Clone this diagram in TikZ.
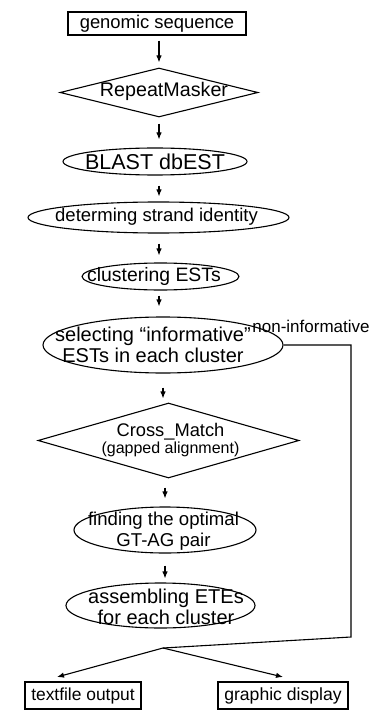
\documentclass[tikz,border=0pt]{standalone}
\usepackage{fontspec}
\setmainfont{Liberation Sans}
\usetikzlibrary{arrows.meta,shapes.geometric}
\tikzset{
  fs/.style={font=\fontsize{#1}{21}\selectfont},
  txt/.style={inner sep=0pt, align=center},
  boxnode/.style={draw, line width=1.2pt, inner sep=0pt, minimum height=23pt},
  ell/.style={draw, ellipse, line width=1.1pt, inner sep=0pt},
  dia/.style={draw, diamond, line width=1.1pt, inner sep=0pt},
  conn/.style={line width=1.1pt},
  arr/.style={conn, -{Latex[length=7pt,width=5.5pt]}},
}
\begin{document}
\begin{tikzpicture}[x=1pt,y=-1pt]
\useasboundingbox (0,0) rectangle (372,711);
% shapes
\node[boxnode, minimum width=178pt, fs=18.4] (gs) at (157,23.5) {genomic sequence};
\node[dia, minimum width=198pt, minimum height=49pt] (rm) at (159,92.5) {};
\node[txt, fs=19.7] (rmt) at (164,91) {RepeatMasker};
\node[ell, minimum width=184pt, minimum height=27pt] (bl) at (155,161.5) {};
\node[txt, fs=21.5] (blt) at (155,162) {BLAST dbEST};
\node[ell, minimum width=261pt, minimum height=31pt] (st) at (158.5,217.5) {};
\node[txt, fs=18.5] (stt) at (156.5,217) {determing strand identity};
\node[ell, minimum width=157pt, minimum height=27pt] (cl) at (160.5,276.5) {};
\node[txt, fs=19.4] (clt) at (154,276) {clustering ESTs};
\node[ell, minimum width=240pt, minimum height=56pt] (se) at (163,345) {};
\node[txt, fs=20] (set) at (153,345) {selecting “informative”\\ESTs in each cluster};
\node[dia, minimum width=261pt, minimum height=75pt] (cm) at (168.5,440.5) {};
\node[txt] (cmt) at (170.5,440) {\fontsize{18.3}{21}\selectfont Cross\_Match\\[1pt]\fontsize{16}{18}\selectfont (gapped alignment)};
\node[ell, minimum width=182pt, minimum height=46pt] (fi) at (165,530) {};
\node[txt, fs=18.6] (fit) at (163.5,531) {finding the optimal\\GT-AG pair};
\node[ell, minimum width=189pt, minimum height=45pt] (as) at (160.5,605.5) {};
\node[txt, fs=20] (ast) at (166,607) {assembling ETEs\\for each cluster};
\node[boxnode, minimum width=116pt, minimum height=27pt, fs=17.4] (tf) at (83,695.5) {textfile output};
\node[boxnode, minimum width=130pt, minimum height=27pt, fs=17.6] (gd) at (283,695.5) {graphic display};
\node[txt, fs=17, anchor=south] (ni) at (311,333) {non-informative};
% connectors
\draw[arr, shorten <=5pt, shorten >=5pt] (gs.south -| rm.north) -- (rm.north);
\draw[arr, shorten <=6pt, shorten >=8pt] (rm.south) -- (rm.south |- bl.north);
\draw[arr, shorten <=10pt, shorten >=5pt] (rm.south |- bl.south) -- (rm.south |- st.north);
\draw[arr, shorten <=10pt, shorten >=7pt] (rm.south |- st.south) -- (rm.south |- cl.north);
\draw[arr, shorten <=5pt, shorten >=10pt] (rm.south |- cl.south) -- (rm.south |- se.north);
\draw[arr, shorten <=14pt, shorten >=4pt] (se.south) -- (se.south |- cm.north);
\draw[arr, shorten <=9pt, shorten >=8pt] (fi.north |- cm.south) -- (fi.north);
\draw[arr, shorten <=12pt, shorten >=4pt] (fi.south) -- (fi.south |- as.north);
\coordinate (c1) at (351,345);
\coordinate (c2) at (351,637);
\coordinate (m) at (163,648);
\coordinate (tfin) at (57,677);
\coordinate (gdin) at (283,677);
\draw[conn] (se.east) -- (c1) -- (c2) -- (m);
\draw[arr] (m) -- (tfin);
\draw[arr] (m) -- (gdin);
\end{tikzpicture}
\end{document}
